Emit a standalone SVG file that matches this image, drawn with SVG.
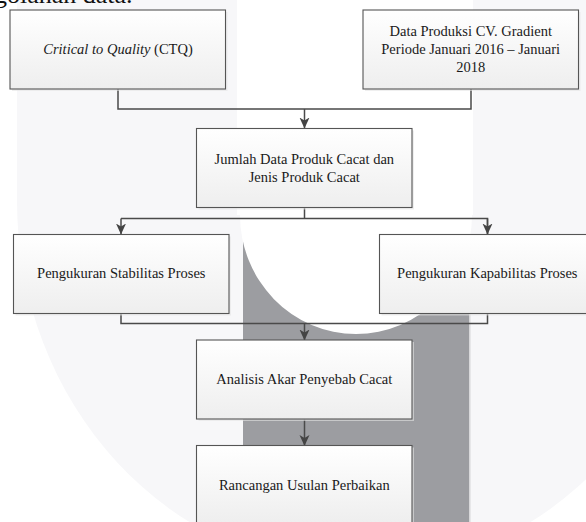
<svg xmlns="http://www.w3.org/2000/svg" width="586" height="522" viewBox="0 0 586 522">
<style>
.t{font-family:"Liberation Serif","Times New Roman",serif;font-size:14.5px;fill:#1a1a1a;text-anchor:middle}
.b{fill:url(#g);stroke:#555;stroke-width:1.1}
.s{fill:#e4e4e4;opacity:.6}
.c{fill:none;stroke:#4a4a4a;stroke-width:1.5}
</style>
<defs>
<linearGradient id="g" x1="0" y1="0" x2="0" y2="1"><stop offset="0" stop-color="#fff"/><stop offset="1" stop-color="#eee"/></linearGradient>
<marker id="a" markerUnits="userSpaceOnUse" markerWidth="12" markerHeight="12" refX="10.5" refY="5" orient="auto"><path d="M0,0L11,5L0,10L3,5Z" fill="#444"/></marker>
</defs>
<rect width="586" height="522" fill="#fff"/>
<path id="wm-light" d="M17,0L17,201A343,370 0 0 0 703,201L703,0Z" fill="#f7f7f9"/>
<rect x="243" y="238" width="226" height="284" fill="#9c9da1"/>
<rect x="469" y="238" width="1.5" height="284" fill="#d8d8da"/>
<path id="wm-inner" d="M237,0L473,0L473,215L472,215A116,119 0 0 1 240,215L237,215Z" fill="#fff"/>
<text x="-6" y="2.500" font-family="Liberation Serif,serif" font-size="26" fill="#111">golahan data.</text>
<g id="connectors">
<path class="c" d="M118,89V109H471V89"/>
<path class="c" d="M304.500,109V128" marker-end="url(#a)"/>
<path class="c" d="M304.500,208V218.500"/>
<path class="c" d="M487.500,234V218.500H121" />
<path class="c" d="M487.500,218.500V234" marker-end="url(#a)"/>
<path class="c" d="M121,218.500V234" marker-end="url(#a)"/>
<path class="c" d="M121,314V323.500H487.500V314"/>
<path class="c" d="M304.500,323.500V340" marker-end="url(#a)"/>
<path class="c" d="M304.500,419.500V445.500" marker-end="url(#a)"/>
</g>
<g id="n1"><rect class="s" x="12" y="12" width="215.500" height="79"/><rect class="b" x="10" y="10" width="215.500" height="79"/><text class="t" x="118" y="54"><tspan font-style="italic">Critical to Quality</tspan> (CTQ)</text></g>
<g id="n2"><rect class="s" x="365" y="12" width="215.500" height="79"/><rect class="b" x="363" y="10" width="215.500" height="79"/><text class="t" x="470.700" y="36">Data Produksi CV. Gradient</text><text class="t" x="470.700" y="54">Periode Januari 2016 – Januari</text><text class="t" x="470.700" y="72">2018</text></g>
<g id="n3"><rect class="s" x="198.500" y="130.500" width="215.500" height="79"/><rect class="b" x="196.500" y="128.500" width="215.500" height="79"/><text class="t" x="304.300" y="164">Jumlah Data Produk Cacat dan</text><text class="t" x="304.300" y="182">Jenis Produk Cacat</text></g>
<g id="n4"><rect class="s" x="15.500" y="236.500" width="215.500" height="79"/><rect class="b" x="13.500" y="234.500" width="215.500" height="79"/><text class="t" x="121.300" y="278">Pengukuran Stabilitas Proses</text></g>
<g id="n5"><rect class="s" x="381.500" y="236.500" width="215.500" height="79"/><rect class="b" x="379.500" y="234.500" width="215.500" height="79"/><text class="t" x="487.300" y="278">Pengukuran Kapabilitas Proses</text></g>
<g id="n6"><rect class="s" x="198.500" y="342" width="215.500" height="79"/><rect class="b" x="196.500" y="340" width="215.500" height="79"/><text class="t" x="304.300" y="384">Analisis Akar Penyebab Cacat</text></g>
<g id="n7"><rect class="s" x="198.500" y="447.500" width="215.500" height="79"/><rect class="b" x="196.500" y="445.500" width="215.500" height="79"/><text class="t" x="304.300" y="490">Rancangan Usulan Perbaikan</text></g>
</svg>
